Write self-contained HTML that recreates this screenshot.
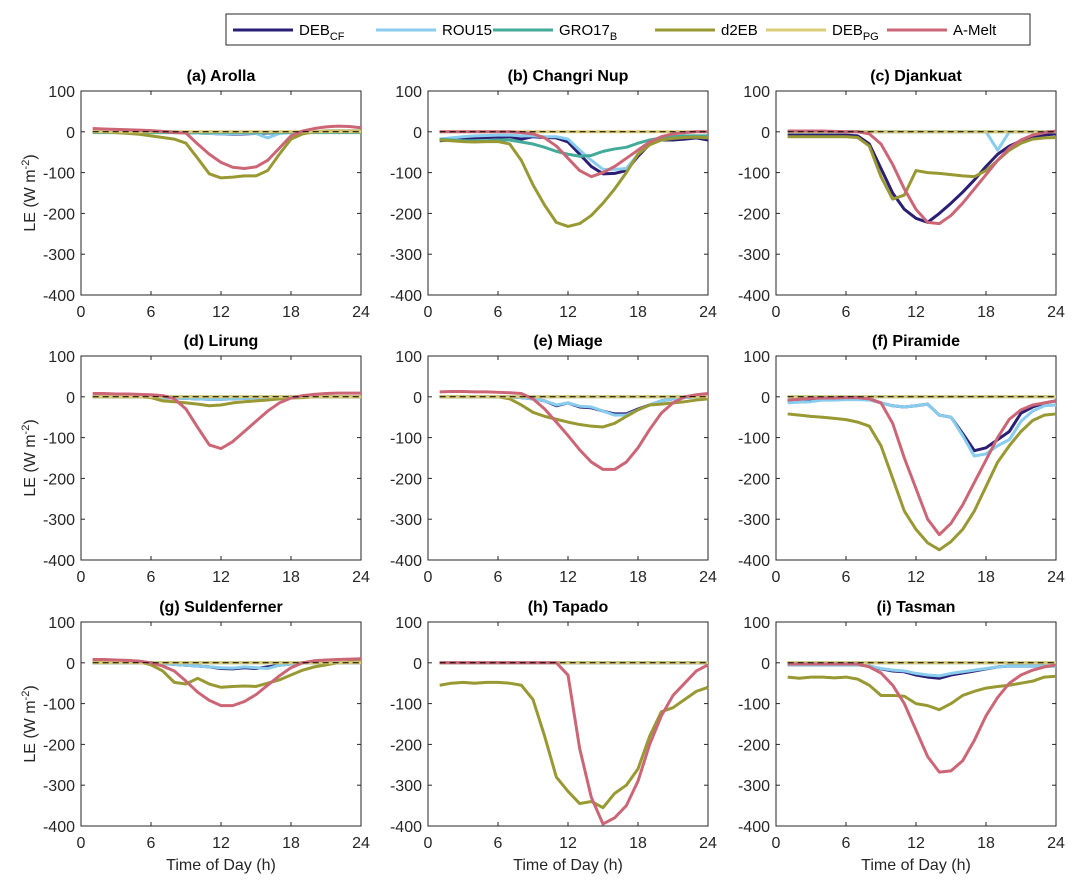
<!DOCTYPE html>
<html><head><meta charset="utf-8"><style>
body{margin:0;background:#fff;}
svg{display:block;font-family:"Liberation Sans",Arial,sans-serif;}
</style></head><body>
<svg id="chart" width="1078" height="888"></svg>
<script>
const hours=[1,2,3,4,5,6,7,8,9,10,11,12,13,14,15,16,17,18,19,20,21,22,23,24];
const seriesNames=["DEB_CF","ROU15","GRO17_B","d2EB","DEB_PG","A-Melt"];
const seriesColors=["#2a1f75","#88ccee","#44aa99","#999933","#ddcc77","#cc6677"];
const panelTitles=["(a) Arolla","(b) Changri Nup","(c) Djankuat","(d) Lirung","(e) Miage","(f) Piramide","(g) Suldenferner","(h) Tapado","(i) Tasman"];
const yTicks=[100,0,-100,-200,-300,-400];
const xTicks=[0,6,12,18,24];
const Z=new Array(24).fill(0);
// values per panel: [DEB_CF, ROU15, GRO17, d2EB, DEB_PG, A-Melt]
const arollaData=[
[0,0,0,0,0,0,0,0,-2,-3,-4,-5,-6,-5,-4,-3,-2,-1,0,0,0,0,0,0],
[0,0,0,0,0,0,0,0,-2,-3,-4,-5,-5,-4,-4,-15,-4,-2,0,0,0,0,0,0],
[-2,-2,-2,-2,-2,-2,-2,-2,-2,-2,-2,-2,-2,-2,-2,-2,-2,-2,-2,-2,-2,-2,-2,-2],
[0,0,-2,-4,-6,-10,-14,-18,-28,-65,-103,-113,-111,-108,-108,-95,-55,-18,-5,0,2,2,2,2],
Z,
[8,7,6,5,4,3,1,-2,-3,-30,-55,-75,-87,-90,-86,-70,-40,-10,2,8,12,14,13,10]];
const changriData=[
[-22,-20,-18,-15,-14,-13,-12,-18,-12,-14,-15,-25,-55,-85,-103,-102,-95,-60,-30,-20,-20,-18,-15,-20],
[-18,-15,-12,-10,-9,-8,-8,-10,-10,-12,-12,-18,-45,-70,-92,-92,-90,-55,-28,-15,-12,-12,-12,-12],
[-18,-20,-22,-22,-22,-20,-20,-25,-30,-38,-48,-55,-60,-58,-48,-42,-38,-28,-20,-15,-12,-10,-10,-10],
[-20,-22,-24,-25,-24,-24,-30,-70,-130,-180,-222,-232,-225,-205,-175,-140,-100,-55,-32,-20,-16,-14,-13,-15],
Z,
[0,0,0,0,0,0,0,-2,-5,-15,-35,-65,-95,-110,-100,-85,-65,-45,-25,-12,-5,-2,0,0]];
const djankuatData=[
[-8,-8,-8,-8,-8,-8,-10,-30,-90,-150,-190,-212,-222,-200,-175,-148,-118,-85,-55,-35,-22,-12,-8,-5],
[0,0,0,0,0,0,0,0,0,0,0,0,0,0,0,0,0,0,-45,0,0,0,0,0],
Z,
[-12,-12,-12,-12,-12,-12,-14,-35,-110,-165,-155,-95,-100,-102,-105,-108,-110,-95,-70,-45,-28,-18,-15,-14],
Z,
[2,2,2,2,1,0,0,-5,-30,-80,-140,-190,-222,-225,-205,-175,-140,-105,-70,-40,-20,-8,-2,2]];
const lirungData=[
[0,0,0,0,0,0,-2,-3,-4,-5,-6,-6,-5,-4,-3,-2,-1,0,0,0,0,0,0,0],
[0,0,0,0,0,0,-2,-3,-4,-5,-6,-6,-5,-4,-3,-2,-1,0,0,0,0,0,0,0],
Z,
[0,0,0,0,0,-2,-10,-12,-15,-18,-22,-20,-15,-12,-10,-8,-5,-3,-2,0,0,0,0,0],
Z,
[8,8,7,7,6,5,3,-5,-30,-75,-118,-127,-110,-85,-60,-35,-15,-3,3,6,8,9,9,9]];
const miageData=[
[0,0,0,0,0,0,0,-2,-5,-10,-22,-15,-25,-27,-35,-42,-42,-30,-20,-10,-5,-2,0,0],
[0,0,0,0,0,0,0,-2,-5,-10,-20,-15,-23,-25,-35,-45,-45,-32,-20,-10,-5,-2,0,0],
Z,
[0,0,0,0,0,0,-5,-20,-38,-48,-55,-62,-68,-72,-74,-65,-48,-32,-20,-18,-15,-12,-8,-5],
Z,
[12,13,13,12,12,11,10,8,-5,-30,-62,-95,-130,-160,-178,-178,-160,-125,-80,-40,-15,0,5,8]];
const piramideData=[
[-10,-8,-5,-3,-3,-3,-3,-5,-15,-22,-25,-22,-18,-45,-50,-90,-132,-125,-105,-85,-40,-25,-15,-10],
[-15,-13,-12,-8,-8,-7,-7,-8,-15,-22,-25,-22,-18,-45,-50,-95,-145,-140,-120,-105,-60,-35,-22,-20],
Z,
[-42,-45,-48,-50,-53,-56,-62,-72,-120,-200,-280,-325,-358,-375,-355,-325,-280,-220,-160,-120,-85,-58,-45,-42],
Z,
[-8,-6,-4,-3,-3,-2,-2,-5,-15,-65,-150,-225,-300,-338,-310,-265,-210,-155,-100,-55,-32,-20,-15,-10]];
const suldenData=[
[0,0,0,0,0,0,-2,-4,-6,-8,-10,-14,-15,-12,-14,-10,-6,-3,0,0,0,0,0,0],
[0,0,0,0,0,0,-2,-4,-6,-8,-10,-12,-13,-10,-12,-14,-6,-3,0,0,0,0,0,0],
Z,
[5,5,5,3,2,-5,-20,-48,-52,-38,-52,-60,-58,-57,-58,-50,-42,-30,-18,-10,-5,0,2,3],
Z,
[8,8,7,6,4,0,-8,-20,-45,-72,-92,-105,-105,-95,-78,-55,-32,-12,0,5,7,8,9,10]];
const tapadoData=[
Z,Z,Z,
[-55,-50,-48,-50,-48,-48,-50,-55,-90,-180,-280,-315,-345,-340,-355,-320,-300,-260,-180,-120,-110,-90,-70,-60],
Z,
[0,0,0,0,0,0,0,0,0,0,0,-30,-210,-330,-395,-380,-350,-290,-200,-130,-80,-50,-20,-5]];
const tasmanData=[
[-5,-5,-5,-5,-5,-5,-5,-8,-15,-20,-22,-30,-35,-38,-30,-25,-20,-15,-10,-8,-8,-8,-8,-8],
[-5,-5,-5,-5,-5,-5,-5,-8,-14,-18,-20,-26,-30,-32,-26,-22,-18,-14,-10,-8,-8,-8,-8,-8],
Z,
[-35,-38,-35,-35,-37,-35,-40,-55,-80,-80,-82,-100,-105,-115,-100,-80,-70,-62,-58,-55,-50,-45,-35,-33],
Z,
[-3,-3,-3,-3,-3,-3,-3,-10,-25,-55,-100,-165,-230,-268,-265,-240,-190,-130,-85,-50,-30,-18,-10,-5]];
const panelData=[arollaData,changriData,djankuatData,lirungData,miageData,piramideData,suldenData,tapadoData,tasmanData];

const NS="http://www.w3.org/2000/svg";
const svg=document.getElementById('chart');
function mk(tag,attrs,parent){const e=document.createElementNS(NS,tag);for(const k in attrs)e.setAttribute(k,attrs[k]);(parent||svg).appendChild(e);return e;}
const colX=[81,428,776], rowY=[91,356,622], W=280, H=204;

panelData.forEach((data,p)=>{
  const x0=colX[p%3], y0=rowY[Math.floor(p/3)];
  const sx=h=>x0+h/24*W, sy=v=>y0+(100-v)/500*H;
  const g=mk('g',{});
  
  
  const box=mk('rect',{x:x0,y:y0,width:W,height:H,fill:'#fff',stroke:'#262626','stroke-width':1},g);
  
  
  const t=mk('text',{x:x0+W/2,y:y0-10,'text-anchor':'middle','font-size':16,'font-weight':'bold',fill:'#000'},g);
  t.textContent=panelTitles[p];
  
  
  yTicks.forEach(v=>{
    const y=sy(v);
    mk('line',{x1:x0,x2:x0+4,y1:y,y2:y,stroke:'#262626'},g);
    mk('line',{x1:x0+W-4,x2:x0+W,y1:y,y2:y,stroke:'#262626'},g);
    const l=mk('text',{x:x0-6,y:y+6,'text-anchor':'end','font-size':16,fill:'#262626'},g);
    l.textContent=v;
    
    
  });
  xTicks.forEach(h=>{
    const x=sx(h);
    mk('line',{x1:x,x2:x,y1:y0+H,y2:y0+H-4,stroke:'#262626'},g);
    mk('line',{x1:x,x2:x,y1:y0,y2:y0+4,stroke:'#262626'},g);
    const l=mk('text',{x:x,y:y0+H+22,'text-anchor':'middle','font-size':16,fill:'#262626'},g);
    l.textContent=h;
    
    
  });
  [0,1,2,3,4,5].forEach(s=>{
    const pts=data[s].map((v,i)=>sx(hours[i])+','+sy(v)).join(' ');
    const pl=mk('polyline',{points:pts,fill:'none',stroke:seriesColors[s],'stroke-width':3,'stroke-linejoin':'round'},g);
    
    
  });
  const z=mk('line',{x1:sx(hours[0]),x2:sx(24),y1:sy(0),y2:sy(0),stroke:'#000','stroke-width':1,'stroke-dasharray':'6,4'},g);
  
  
  if(p%3===0){
    const yl=mk('text',{x:0,y:0,transform:`translate(${x0-46},${y0+H/2}) rotate(-90)`,'text-anchor':'middle','font-size':16,fill:'#262626'},g);
    yl.innerHTML='LE (W m<tspan dy="-6" font-size="11">-2</tspan><tspan dy="6">)</tspan>';
    
    
  }
  if(p>=6){
    const xl=mk('text',{x:x0+W/2,y:y0+H+44,'text-anchor':'middle','font-size':16,fill:'#262626'},g);
    xl.textContent='Time of Day (h)';
    
    
  }
});

const lg=mk('g',{});


mk('rect',{x:226,y:14,width:804,height:31,fill:'#fff',stroke:'#262626'},lg);
const legX=[233,376,493,655,766,887];
const legLabels=['DEB<tspan dy="5" font-size="11">CF</tspan>','ROU15','GRO17<tspan dy="5" font-size="11">B</tspan>','d2EB','DEB<tspan dy="5" font-size="11">PG</tspan>','A-Melt'];
legX.forEach((x,i)=>{
  const e=mk('g',{},lg);
  
  
  mk('line',{x1:x,x2:x+60,y1:30,y2:30,stroke:seriesColors[i],'stroke-width':3},e);
  const t=mk('text',{x:x+66,y:35,'font-size':15,fill:'#000'},e);
  t.innerHTML=legLabels[i];
});
</script>
</body></html>
